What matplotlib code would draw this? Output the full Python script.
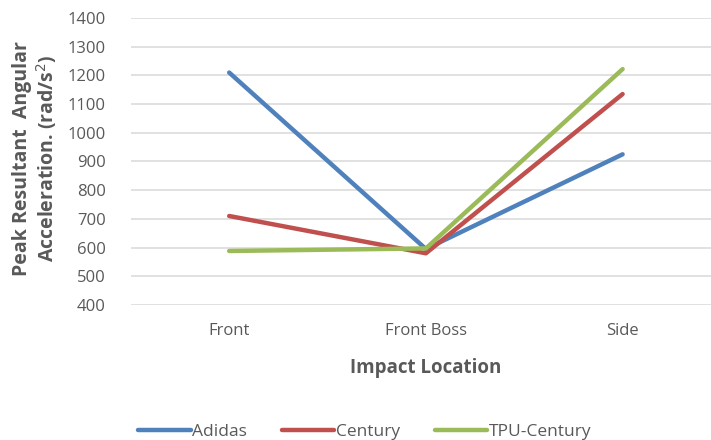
import matplotlib.pyplot as plt
import numpy as np

from matplotlib import rcParams
rcParams['font.family'] = ['Open Sans', 'DejaVu Sans']

locations = ['Front', 'Front Boss', 'Side']
adidas = [1210, 595, 925]
century = [710, 580, 1135]
tpu_century = [588, 597, 1222]

series = ['Adidas', 'Century', 'TPU-Century']
colors = ['#4F81BD', '#C0504D', '#9BBB59']
grey = '#595959'

fig = plt.figure(figsize=(7.11, 4.40), dpi=100)
ax = fig.add_axes([0.184, 0.307, 0.830, 0.652])

x = np.arange(len(locations))
for values, name, color in zip([adidas, century, tpu_century], series, colors):
    ax.plot(x, values, color=color, linewidth=3.2, label=name, solid_capstyle='round')

ax.set_xlim(-0.5, 2.5)
ax.set_ylim(400, 1400)
ax.set_yticks(range(400, 1401, 100))
ax.set_xticks(x)
ax.set_xticklabels(locations)
ax.grid(axis='y', color='#D9D9D9', linewidth=1.1)
ax.set_axisbelow(True)
for spine in ax.spines.values():
    spine.set_visible(False)
ax.tick_params(axis='both', length=0, colors=grey, labelsize=12)
ax.tick_params(axis='y', pad=18)
ax.tick_params(axis='x', pad=13)

fig.text(0.050, 0.64, 'Peak Resultant  Angular\nAcceleration. (rad/s$^2$)',
         rotation=90, ha='center', va='center', fontsize=14,
         fontweight='bold', color=grey, linespacing=1.1)
fig.text(0.599, 0.163, 'Impact Location', ha='center', va='center',
         fontsize=13.5, fontweight='bold', color=grey)

fig.legend(loc='center', bbox_to_anchor=(0.513, 0.018), ncol=3, frameon=False,
           fontsize=12.5, handlelength=3.0, handletextpad=0.1, columnspacing=2.0,
           labelcolor=grey)

fig.savefig('out.png', dpi=100)
